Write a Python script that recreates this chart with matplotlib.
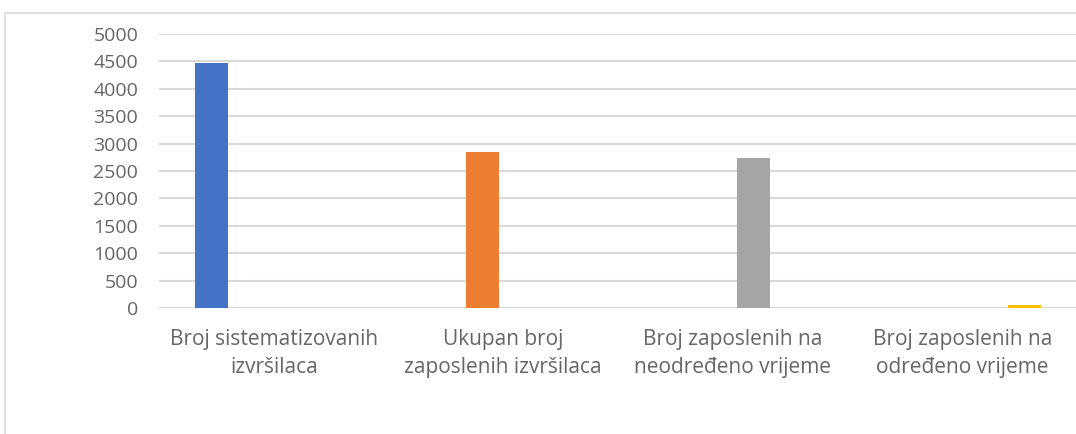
import numpy as np
import matplotlib
matplotlib.use("Agg")
import matplotlib.pyplot as plt
from matplotlib.patches import Rectangle

categories = ["Broj sistematizovanih\nizvršilaca",
              "Ukupan broj\nzaposlenih izvršilaca",
              "Broj zaposlenih na\nneodređeno vrijeme",
              "Broj zaposlenih na\nodređeno vrijeme"]
# one series per category, as in the excel sheet
values = [4470, 2850, 2735, 55]
colors = ["#4472C4", "#ED7D31", "#A5A5A5", "#FFC000"]
yticks = [0, 500, 1000, 1500, 2000, 2500, 3000, 3500, 4000, 4500, 5000]

plt.rcParams['font.family'] = ['Open Sans', 'DejaVu Sans']

fig = plt.figure(figsize=(10.76, 4.34), dpi=100)
ax = fig.add_axes([159/1076, 1 - 308/434, 918/1076, 274/434])

x = np.arange(len(categories))
step = 0.181
for i, v in enumerate(values):
    ax.bar(x[i] + (i - 1.5) * step, v, width=0.145, color=colors[i], zorder=3)

ax.set_xlim(-0.5, 3.5)
ax.set_ylim(0, 5000)
ax.set_yticks(yticks)
ax.set_xticks(x)
ax.set_xticklabels(categories, linespacing=1.42)
ax.grid(axis='y', color='#D9D9D9', linewidth=1.5, zorder=0)
ax.set_axisbelow(True)
for s in ax.spines.values():
    s.set_visible(False)
ax.tick_params(axis='both', length=0, colors='#666666')
ax.tick_params(axis='y', pad=15, labelsize=14)
ax.tick_params(axis='x', pad=15, labelsize=15)

# chart frame
fig.patches.append(Rectangle((5/1076, -0.1), 1.2, 1 - 13/434 + 0.1,
                             transform=fig.transFigure, fill=False,
                             edgecolor='#D9D9D9', linewidth=1.2))

fig.savefig("out.png", dpi=100)
